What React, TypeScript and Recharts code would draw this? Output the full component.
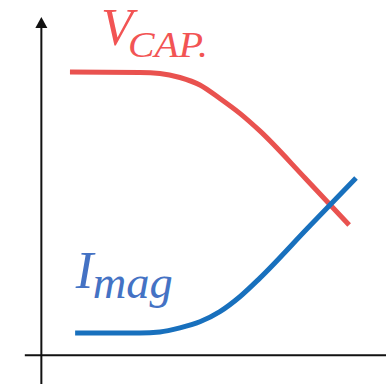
import { LineChart, Line, XAxis, YAxis, ReferenceLine, ReferenceDot } from "recharts";

// V_CAP. curve (flat, knee, then falling straight)
const vcapX = [0.83, 2.86, 3.44, 4.02, 4.6, 5.18, 5.76, 6.34, 7.65, 8.93];
const vcapY = [8.37, 8.36, 8.33, 8.21, 7.99, 7.59, 7.15, 6.63, 5.24, 3.85];

// I_mag curve (flat, knee, then rising straight)
const imagX = [0.98, 2.86, 3.44, 4.02, 4.6, 5.18, 5.76, 6.34, 7.73, 9.13];
const imagY = [0.66, 0.66, 0.69, 0.81, 0.99, 1.29, 1.73, 2.28, 3.76, 5.24];

const vcapData = vcapX.map((x, i) => ({ x, y: vcapY[i] }));
const imagData = imagX.map((x, i) => ({ x, y: imagY[i] }));

const RED = "#e9524f";
const BLUE = "#1870bd";
const RED_TEXT = "#f25454";
const BLUE_TEXT = "#4472c4";
const FONT = "'Liberation Serif', serif";

const Arrow = ({ cx, cy }: any) => (
  <path d={`M${cx},${cy} L${cx - 6},${cy + 11} L${cx + 6},${cy + 11} Z`} fill='#111' />
);

const VcapLabel = ({ cx, cy }: any) => (
  <text fill={RED_TEXT} fontFamily={FONT} fontStyle='italic'>
    <tspan x={cx - 1} y={cy} fontSize={52}>
      V
    </tspan>
    <tspan x={cx + 26} y={cy + 12} fontSize={36} textLength={80} lengthAdjust='spacingAndGlyphs'>
      CAP.
    </tspan>
  </text>
);

const ImagLabel = ({ cx, cy }: any) => (
  <text fill={BLUE_TEXT} fontFamily={FONT} fontStyle='italic'>
    <tspan x={cx} y={cy} fontSize={53}>
      I
    </tspan>
    <tspan x={cx + 17} y={cy + 10} fontSize={47} textLength={80} lengthAdjust='spacingAndGlyphs'>
      mag
    </tspan>
  </text>
);

export default function App() {
  return (
    <div style={{ position: "absolute", left: 0, top: 0, background: "#fff" }}>
      <LineChart width={386} height={384} margin={{ top: 0, right: 0, bottom: 0, left: 0 }}>
        <XAxis type='number' dataKey='x' domain={[-1.2, 10]} hide allowDataOverflow />
        <YAxis type='number' dataKey='y' domain={[-0.85, 10.5]} hide allowDataOverflow />
        <ReferenceLine
          segment={[{ x: 0, y: -0.85 }, { x: 0, y: 9.8 }]}
          stroke='#111'
          strokeWidth={2}
          ifOverflow='visible'
        />
        <ReferenceLine
          segment={[{ x: -0.48, y: 0 }, { x: 10, y: 0 }]}
          stroke='#111'
          strokeWidth={2}
          ifOverflow='visible'
        />
        <ReferenceDot x={0} y={10} shape={<Arrow />} ifOverflow='visible' />
        <Line
          data={vcapData}
          dataKey='y'
          type='monotone'
          stroke={RED}
          strokeWidth={5}
          strokeLinecap='butt'
          dot={false}
          activeDot={false}
          isAnimationActive={false}
        />
        <Line
          data={imagData}
          dataKey='y'
          type='monotone'
          stroke={BLUE}
          strokeWidth={5}
          strokeLinecap='butt'
          dot={false}
          activeDot={false}
          isAnimationActive={false}
        />
        <ReferenceDot x={1.76} y={9.17} shape={<VcapLabel />} ifOverflow='visible' />
        <ReferenceDot x={1.0} y={1.99} shape={<ImagLabel />} ifOverflow='visible' />
      </LineChart>
    </div>
  );
}
